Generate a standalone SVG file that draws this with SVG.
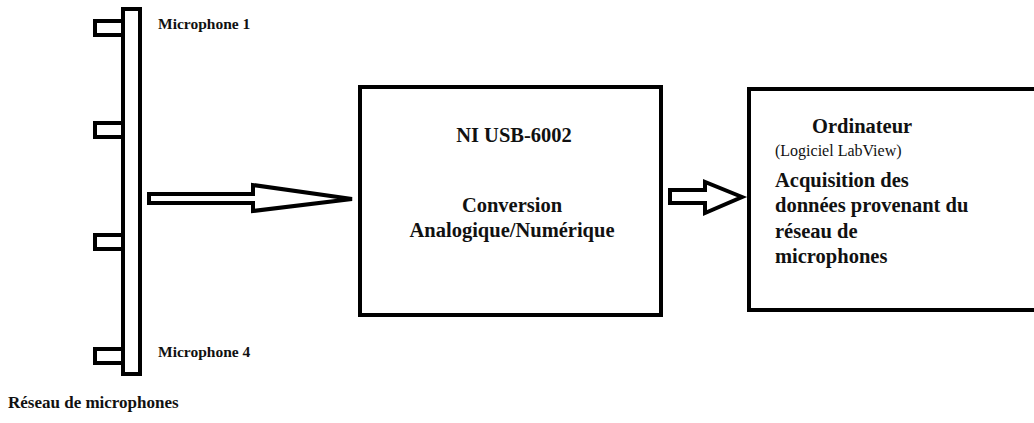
<svg xmlns="http://www.w3.org/2000/svg" width="1034" height="423" viewBox="0 0 1034 423">
<style>
.ln{fill:#fff;stroke:#000;stroke-width:4;stroke-linejoin:miter}
.t{font-family:"Liberation Serif","Times New Roman",serif;fill:#111}
.b{font-weight:bold}
</style>
<rect width="1034" height="423" fill="#fff"/>
<g id="mic-array">
<rect class="ln" x="95" y="21" width="28" height="14"/>
<rect class="ln" x="95" y="123" width="28" height="14"/>
<rect class="ln" x="95" y="235" width="28" height="14"/>
<rect class="ln" x="95" y="349" width="28" height="14"/>
<rect class="ln" x="123" y="9" width="17" height="365"/>
<text class="t b" x="158" y="29" font-size="15.5">Microphone 1</text>
<text class="t b" x="158" y="357" font-size="15.5">Microphone 4</text>
<text class="t b" x="8" y="408" font-size="17">Réseau de microphones</text>
</g>
<g id="daq">
<rect class="ln" x="360" y="87" width="301" height="228"/>
<text class="t b" x="514" y="142" font-size="20.5" text-anchor="middle">NI USB-6002</text>
<text class="t b" x="512" y="212" font-size="20.5" text-anchor="middle">Conversion</text>
<text class="t b" x="512" y="237" font-size="20.5" text-anchor="middle">Analogique/Numérique</text>
</g>
<g id="computer">
<rect class="ln" x="749" y="89" width="300" height="221"/>
<text class="t b" x="812" y="133" font-size="20.5">Ordinateur</text>
<text class="t" x="775" y="156" font-size="16">(Logiciel LabView)</text>
<text class="t b" x="775" y="187" font-size="20.5">Acquisition des</text>
<text class="t b" x="775" y="212" font-size="20.5">données provenant du</text>
<text class="t b" x="775" y="238" font-size="20.5">réseau de</text>
<text class="t b" x="775" y="263" font-size="20.5">microphones</text>
</g>
<g id="connectors">
<path class="ln" d="M149,194 L253,194 L253,185 L352,199 L253,211 L253,203 L149,203 Z"/>
<path class="ln" d="M670,190 L705,190 L705,182 L742,197 L705,213 L705,203 L670,203 Z"/>
</g>
</svg>
